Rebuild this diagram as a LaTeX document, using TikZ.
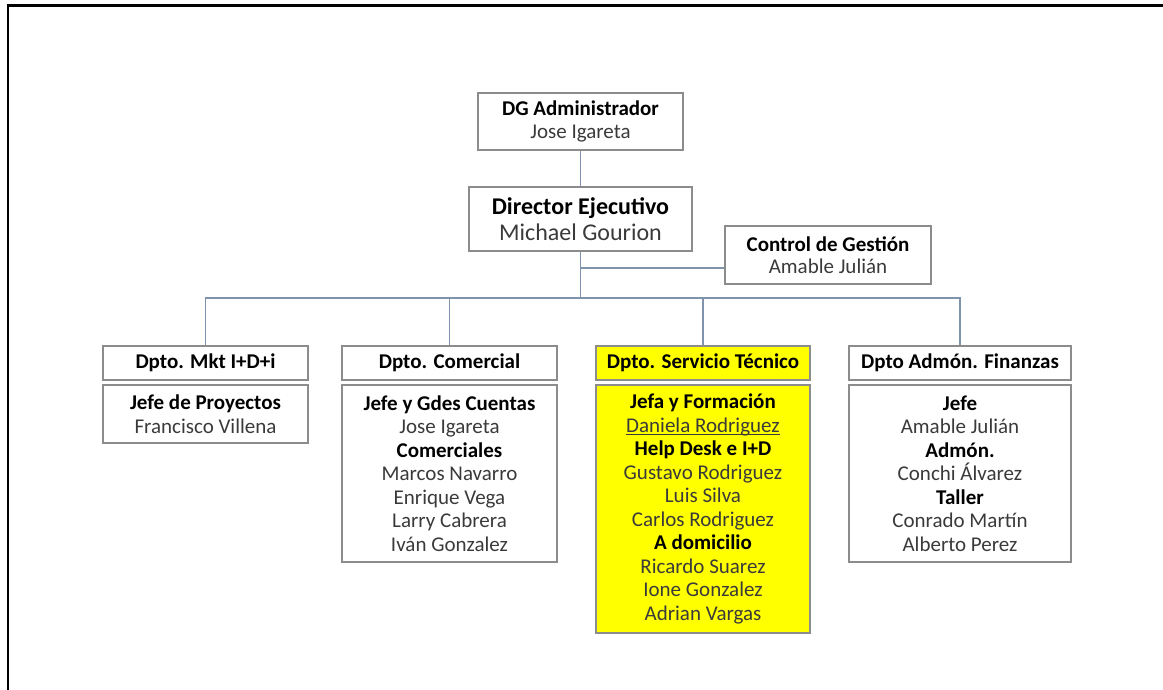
\documentclass[tikz,border=0pt]{standalone}
\usepackage{fontspec}
\setmainfont{Carlito}
\definecolor{boxgray}{HTML}{8C8C8C}
\definecolor{linkblue}{HTML}{7F93AD}
\definecolor{txtgray}{HTML}{3A3A3A}
\definecolor{yel}{HTML}{FFFF00}
\newcommand{\myul}[1]{\setbox0\hbox{#1}\rlap{\rule[-3.2pt]{\wd0}{0.9pt}}\box0}
\begin{document}
\begin{tikzpicture}[x=1pt,y=-1pt,
  orgbox/.style={draw=boxgray, line width=1.3pt, inner sep=0pt, align=center,
    text=txtgray, font=\fontsize{21}{22.5}\selectfont},
  bodybox/.style={orgbox, font=\fontsize{21}{23.55}\selectfont},
  hilite/.style={fill=yel},
  link/.style={draw=linkblue, line width=1.4pt},
  frameline/.style={draw=black, line width=2.6pt}]
\useasboundingbox (0,0) rectangle (1163,690);
\draw[frameline] (1163,5.5) -- (8,5.5) -- (8,690);

\newcommand{\hd}[1]{{\bfseries\color{black}#1}}

\node[orgbox, minimum width=205, minimum height=57] (dg) at (580.5,121.5)
  {\hd{DG Administrador}\\Jose Igareta};
\node[orgbox, minimum width=223, minimum height=64, font=\fontsize{24}{26.3}\selectfont] (dir) at (580.5,219)
  {\hd{Director Ejecutivo}\\Michael Gourion};
\node[orgbox, minimum width=206, minimum height=58] (ctrl) at (828,255)
  {\hd{Control de Gestión}\\Amable Julián};

\node[orgbox, minimum width=205, minimum height=34] (mkth) at (205.5,363) {\hd{Dpto. Mkt I+D+i}};
\node[bodybox, minimum width=205, minimum height=58] (mktb) at (205.5,414)
  {\hd{Jefe de Proyectos}\\Francisco Villena};

\node[orgbox, minimum width=215, minimum height=34] (comh) at (449.5,363) {\hd{Dpto. Comercial}};
\node[bodybox, minimum width=215, minimum height=177] (comb) at (449.5,473.5)
  {\hd{Jefe y Gdes Cuentas}\\Jose Igareta\\\hd{Comerciales}\\Marcos Navarro\\Enrique Vega\\Larry Cabrera\\Iván Gonzalez};

\node[orgbox, hilite, minimum width=214, minimum height=34] (sth) at (703,363) {\hd{Dpto. Servicio Técnico}};
\node[bodybox, hilite, minimum width=214, minimum height=248] (stb) at (703,509)
  {\hd{Jefa y Formación}\\\myul{Daniela Rodriguez}\\\hd{Help Desk e I+D}\\Gustavo Rodriguez\\Luis Silva\\Carlos Rodriguez\\\hd{A domicilio}\\Ricardo Suarez\\Ione Gonzalez\\Adrian Vargas};

\node[orgbox, minimum width=222, minimum height=34] (admh) at (960,363) {\hd{Dpto Admón. Finanzas}};
\node[bodybox, minimum width=222, minimum height=177] (admb) at (960,473.5)
  {\hd{Jefe}\\Amable Julián\\\hd{Admón.}\\Conchi Álvarez\\\hd{Taller}\\Conrado Martín\\Alberto Perez};

\coordinate (cj) at (580.5,268);
\coordinate (bj) at (580.5,298);
\draw[link] (dg.south) -- (dir.north);
\draw[link] (dir.south) -- (bj);
\draw[link] (cj) -- (cj -| ctrl.west);
\draw[link] (mkth.north) -- (mkth.north |- bj) -- (admh.north |- bj) -- (admh.north);
\draw[link] (comh.north) -- (comh.north |- bj);
\draw[link] (sth.north) -- (sth.north |- bj);
\end{tikzpicture}
\end{document}
